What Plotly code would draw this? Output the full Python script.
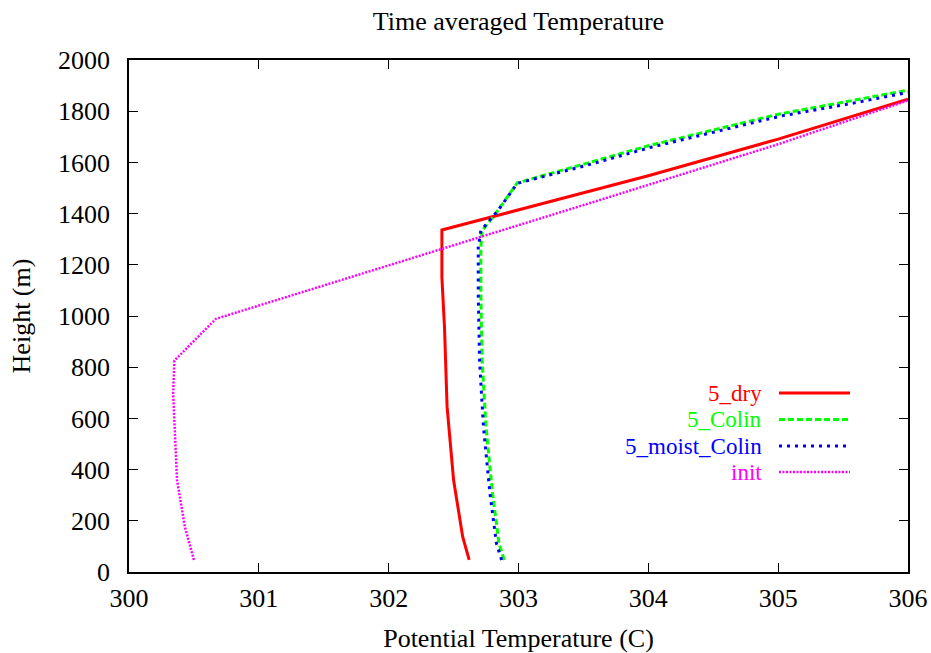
import plotly.graph_objects as go

# ---- data ----
dry_T = [302.62, 302.57, 302.50, 302.45, 302.43, 302.41, 302.41, 304.0, 305.0, 306.0]
dry_h = [47, 138, 359, 645, 956, 1151, 1336, 1548, 1691, 1847]

colin_T = [302.89, 302.85, 302.80, 302.75, 302.72, 302.71, 302.71, 302.72, 302.84, 302.99, 303.5, 304.0, 305.0, 305.5, 306.0]
colin_h = [47, 112, 307, 566, 826, 1087, 1268, 1333, 1411, 1520, 1593, 1665, 1788, 1834, 1882]

moist_T = [302.87, 302.83, 302.78, 302.73, 302.70, 302.69, 302.69, 302.71, 302.84, 302.99, 303.52, 304.02, 305.02, 305.52, 306.0]
moist_h = [47, 112, 307, 566, 826, 1087, 1268, 1333, 1411, 1518, 1588, 1659, 1781, 1826, 1873]

init_T = [300.50, 300.46, 300.43, 300.37, 300.35, 300.34, 300.35, 300.67, 303.62, 305.0, 306.0]
init_h = [47, 125, 177, 359, 554, 700, 826, 989, 1452, 1671, 1842]

series_names = ["5_dry", "5_Colin", "5_moist_Colin", "init"]
series_colors = ["#ff0000", "#00ff00", "#0000ff", "#ff00ff"]
series_dash = ["solid", "6px,3px", "3px,5px", "2px,1.5px"]
series_width = [3, 3, 3, 2.5]

x_ticks = [300, 301, 302, 303, 304, 305, 306]
y_ticks = [0, 200, 400, 600, 800, 1000, 1200, 1400, 1600, 1800, 2000]

FONT = "Liberation Serif, Times New Roman, serif"
FS = 26
LEG_FS = 23

fig = go.Figure()
data = [(dry_T, dry_h), (colin_T, colin_h), (moist_T, moist_h), (init_T, init_h)]
for (t, h), name, col, dash, w in zip(data, series_names, series_colors, series_dash, series_width):
    fig.add_trace(go.Scatter(x=t, y=h, mode="lines", name=name,
                             line=dict(color=col, dash=dash, width=w),
                             showlegend=False))

# manual gnuplot-style legend: right-aligned coloured text, sample line to the right
L, R, T, B = 129, 908, 60, 572
W, H = R - L, B - T
def px(xp):
    return (xp - L) / W
def py(yp):
    return (B - yp) / H

row_y = [393, 419.5, 446, 472]
for name, col, dash, w, yy in zip(series_names, series_colors, series_dash, series_width, row_y):
    fig.add_annotation(x=px(763), y=py(yy), xref="paper", yref="paper",
                       text=name, showarrow=False, xanchor="right", yanchor="middle",
                       borderpad=0,
                       font=dict(family=FONT, size=LEG_FS, color=col))
    fig.add_shape(type="line", xref="paper", yref="paper",
                  x0=px(779), x1=px(850), y0=py(yy), y1=py(yy),
                  line=dict(color=col, dash=dash, width=w))

axis_common = dict(showline=True, linecolor="black", linewidth=1.5, mirror="ticks",
                   ticks="inside", ticklen=9, tickwidth=1, tickcolor="black",
                   showgrid=False, zeroline=False, automargin=False,
                   tickfont=dict(family=FONT, size=FS, color="black"))

fig.update_layout(
    width=931, height=653,
    margin=dict(l=L, r=931 - R, t=T, b=653 - B),
    paper_bgcolor="white", plot_bgcolor="white",
    title=dict(text="Time averaged Temperature", x=(L + R) / 2 / 931, xanchor="center",
               y=1 - 21 / 653, yanchor="middle",
               font=dict(family=FONT, size=FS, color="black")),
    xaxis=dict(range=[300, 306], tickvals=x_ticks, ticktext=[str(v) for v in x_ticks],
               ticklabelstandoff=2,
               title=dict(text="Potential Temperature (C)", standoff=20,
                          font=dict(family=FONT, size=FS, color="black")),
               **axis_common),
    yaxis=dict(range=[0, 2000], tickvals=y_ticks, ticktext=[str(v) for v in y_ticks],
               ticklabelstandoff=12,
               title=dict(text="Height (m)", standoff=20,
                          font=dict(family=FONT, size=FS, color="black")),
               **axis_common),
)

fig.write_html("out.html", config={"displayModeBar": False},
               post_script="document.body.style.margin='0';document.body.style.overflow='hidden';")
